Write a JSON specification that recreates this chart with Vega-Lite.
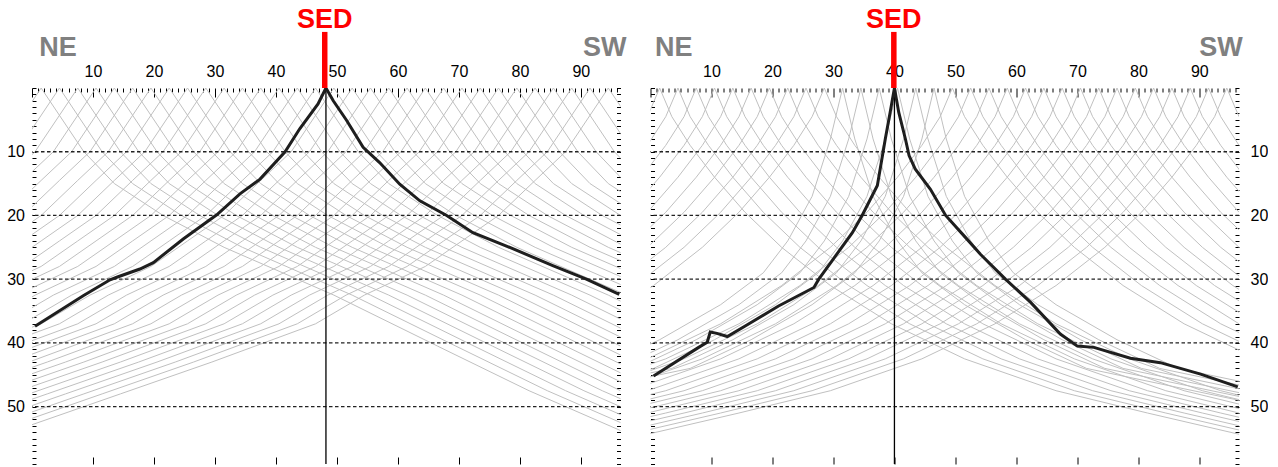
{
"$schema":"https://vega.github.io/schema/vega-lite/v6.json",
"padding":{"left":6,"top":6,"right":0,"bottom":0},
"background":"white",
"spacing":29.5,
"bounds":"flush",
"config":{"view":{"stroke":null},"axis":{"labelFont":"Liberation Sans, sans-serif","labelFontSize":16,"labelColor":"#000","tickColor":"#000","tickWidth":1,"domain":false,"grid":false,"title":null}},
"datasets":{
"L":[
{"s":1.5,"x":-5.5,"t":10},{"s":1.5,"x":1.5,"t":0},{"s":1.5,"x":8.5,"t":10},{"s":1.5,"x":13.5,"t":15},{"s":1.5,"x":21.5,"t":20},{"s":1.5,"x":31.5,"t":25},{"s":1.5,"x":49.5,"t":32.5},{"s":1.5,"x":66.5,"t":40.5},{"s":1.5,"x":81.5,"t":47.5},{"s":1.5,"x":99.5,"t":55},
{"s":4.5,"x":-2.5,"t":10},{"s":4.5,"x":4.5,"t":0},{"s":4.5,"x":11.5,"t":10},{"s":4.5,"x":16.5,"t":15},{"s":4.5,"x":24.5,"t":20},{"s":4.5,"x":34.5,"t":25},{"s":4.5,"x":52.5,"t":32.5},{"s":4.5,"x":69.5,"t":40.5},{"s":4.5,"x":84.5,"t":47.5},{"s":4.5,"x":102.5,"t":55},
{"s":7.5,"x":-4.5,"t":14.5},{"s":7.5,"x":0.5,"t":10},{"s":7.5,"x":7.5,"t":0},{"s":7.5,"x":14.5,"t":10},{"s":7.5,"x":19.5,"t":15},{"s":7.5,"x":27.5,"t":20},{"s":7.5,"x":37.5,"t":25},{"s":7.5,"x":55.5,"t":32.5},{"s":7.5,"x":72.5,"t":40.5},{"s":7.5,"x":87.5,"t":47.5},{"s":7.5,"x":105.5,"t":55},
{"s":10.5,"x":-1.5,"t":14.5},{"s":10.5,"x":3.5,"t":10},{"s":10.5,"x":10.5,"t":0},{"s":10.5,"x":17.5,"t":10},{"s":10.5,"x":22.5,"t":15},{"s":10.5,"x":30.5,"t":20},{"s":10.5,"x":40.5,"t":25},{"s":10.5,"x":58.5,"t":32.5},{"s":10.5,"x":75.5,"t":40.5},{"s":10.5,"x":90.5,"t":47.5},{"s":10.5,"x":108.5,"t":55},
{"s":13.5,"x":-4.5,"t":20},{"s":13.5,"x":1.5,"t":14.5},{"s":13.5,"x":6.5,"t":10},{"s":13.5,"x":13.5,"t":0},{"s":13.5,"x":20.5,"t":10},{"s":13.5,"x":25.5,"t":15},{"s":13.5,"x":33.5,"t":20},{"s":13.5,"x":43.5,"t":25},{"s":13.5,"x":61.5,"t":32.5},{"s":13.5,"x":78.5,"t":40.5},{"s":13.5,"x":93.5,"t":47.5},{"s":13.5,"x":111.5,"t":55},
{"s":16.5,"x":-1.5,"t":20},{"s":16.5,"x":4.5,"t":14.5},{"s":16.5,"x":9.5,"t":10},{"s":16.5,"x":16.5,"t":0},{"s":16.5,"x":23.5,"t":10},{"s":16.5,"x":28.5,"t":15},{"s":16.5,"x":36.5,"t":20},{"s":16.5,"x":46.5,"t":25},{"s":16.5,"x":64.5,"t":32.5},{"s":16.5,"x":81.5,"t":40.5},{"s":16.5,"x":96.5,"t":47.5},
{"s":19.5,"x":-4.5,"t":24},{"s":19.5,"x":1.5,"t":20},{"s":19.5,"x":7.5,"t":14.5},{"s":19.5,"x":12.5,"t":10},{"s":19.5,"x":19.5,"t":0},{"s":19.5,"x":26.5,"t":10},{"s":19.5,"x":31.5,"t":15},{"s":19.5,"x":39.5,"t":20},{"s":19.5,"x":49.5,"t":25},{"s":19.5,"x":67.5,"t":32.5},{"s":19.5,"x":84.5,"t":40.5},{"s":19.5,"x":99.5,"t":47.5},
{"s":22.5,"x":-1.5,"t":24},{"s":22.5,"x":4.5,"t":20},{"s":22.5,"x":10.5,"t":14.5},{"s":22.5,"x":15.5,"t":10},{"s":22.5,"x":22.5,"t":0},{"s":22.5,"x":29.5,"t":10},{"s":22.5,"x":34.5,"t":15},{"s":22.5,"x":42.5,"t":20},{"s":22.5,"x":52.5,"t":25},{"s":22.5,"x":70.5,"t":32.5},{"s":22.5,"x":87.5,"t":40.5},{"s":22.5,"x":102.5,"t":47.5},
{"s":25.5,"x":-4.5,"t":28},{"s":25.5,"x":1.5,"t":24},{"s":25.5,"x":7.5,"t":20},{"s":25.5,"x":13.5,"t":14.5},{"s":25.5,"x":18.5,"t":10},{"s":25.5,"x":25.5,"t":0},{"s":25.5,"x":32.5,"t":10},{"s":25.5,"x":37.5,"t":15},{"s":25.5,"x":45.5,"t":20},{"s":25.5,"x":55.5,"t":25},{"s":25.5,"x":73.5,"t":32.5},{"s":25.5,"x":90.5,"t":40.5},{"s":25.5,"x":105.5,"t":47.5},
{"s":28.5,"x":-1.5,"t":28},{"s":28.5,"x":4.5,"t":24},{"s":28.5,"x":10.5,"t":20},{"s":28.5,"x":16.5,"t":14.5},{"s":28.5,"x":21.5,"t":10},{"s":28.5,"x":28.5,"t":0},{"s":28.5,"x":35.5,"t":10},{"s":28.5,"x":40.5,"t":15},{"s":28.5,"x":48.5,"t":20},{"s":28.5,"x":58.5,"t":25},{"s":28.5,"x":76.5,"t":32.5},{"s":28.5,"x":93.5,"t":40.5},{"s":28.5,"x":108.5,"t":47.5},
{"s":31.5,"x":-8.5,"t":32.5},{"s":31.5,"x":1.5,"t":28},{"s":31.5,"x":7.5,"t":24},{"s":31.5,"x":13.5,"t":20},{"s":31.5,"x":19.5,"t":14.5},{"s":31.5,"x":24.5,"t":10},{"s":31.5,"x":31.5,"t":0},{"s":31.5,"x":38.5,"t":10},{"s":31.5,"x":43.5,"t":15},{"s":31.5,"x":51.5,"t":20},{"s":31.5,"x":61.5,"t":25},{"s":31.5,"x":79.5,"t":32.5},{"s":31.5,"x":96.5,"t":40.5},
{"s":34.5,"x":-5.5,"t":32.5},{"s":34.5,"x":4.5,"t":28},{"s":34.5,"x":10.5,"t":24},{"s":34.5,"x":16.5,"t":20},{"s":34.5,"x":22.5,"t":14.5},{"s":34.5,"x":27.5,"t":10},{"s":34.5,"x":34.5,"t":0},{"s":34.5,"x":41.5,"t":10},{"s":34.5,"x":46.5,"t":15},{"s":34.5,"x":54.5,"t":20},{"s":34.5,"x":64.5,"t":25},{"s":34.5,"x":82.5,"t":32.5},{"s":34.5,"x":99.5,"t":40.5},
{"s":37.5,"x":-2.5,"t":32.5},{"s":37.5,"x":7.5,"t":28},{"s":37.5,"x":13.5,"t":24},{"s":37.5,"x":19.5,"t":20},{"s":37.5,"x":25.5,"t":14.5},{"s":37.5,"x":30.5,"t":10},{"s":37.5,"x":37.5,"t":0},{"s":37.5,"x":44.5,"t":10},{"s":37.5,"x":49.5,"t":15},{"s":37.5,"x":57.5,"t":20},{"s":37.5,"x":67.5,"t":25},{"s":37.5,"x":85.5,"t":32.5},{"s":37.5,"x":102.5,"t":40.5},
{"s":40.5,"x":-7.5,"t":37},{"s":40.5,"x":0.5,"t":32.5},{"s":40.5,"x":10.5,"t":28},{"s":40.5,"x":16.5,"t":24},{"s":40.5,"x":22.5,"t":20},{"s":40.5,"x":28.5,"t":14.5},{"s":40.5,"x":33.5,"t":10},{"s":40.5,"x":40.5,"t":0},{"s":40.5,"x":47.5,"t":10},{"s":40.5,"x":52.5,"t":15},{"s":40.5,"x":60.5,"t":20},{"s":40.5,"x":70.5,"t":25},{"s":40.5,"x":88.5,"t":32.5},{"s":40.5,"x":105.5,"t":40.5},
{"s":43.5,"x":-4.5,"t":37},{"s":43.5,"x":3.5,"t":32.5},{"s":43.5,"x":13.5,"t":28},{"s":43.5,"x":19.5,"t":24},{"s":43.5,"x":25.5,"t":20},{"s":43.5,"x":31.5,"t":14.5},{"s":43.5,"x":36.5,"t":10},{"s":43.5,"x":43.5,"t":0},{"s":43.5,"x":50.5,"t":10},{"s":43.5,"x":55.5,"t":15},{"s":43.5,"x":63.5,"t":20},{"s":43.5,"x":73.5,"t":25},{"s":43.5,"x":91.5,"t":32.5},{"s":43.5,"x":108.5,"t":40.5},
{"s":46.5,"x":-1.5,"t":37},{"s":46.5,"x":6.5,"t":32.5},{"s":46.5,"x":16.5,"t":28},{"s":46.5,"x":22.5,"t":24},{"s":46.5,"x":28.5,"t":20},{"s":46.5,"x":34.5,"t":14.5},{"s":46.5,"x":39.5,"t":10},{"s":46.5,"x":46.5,"t":0},{"s":46.5,"x":53.5,"t":10},{"s":46.5,"x":58.5,"t":15},{"s":46.5,"x":66.5,"t":20},{"s":46.5,"x":76.5,"t":25},{"s":46.5,"x":94.5,"t":32.5},{"s":46.5,"x":111.5,"t":40.5},
{"s":49.5,"x":-15.5,"t":43},{"s":49.5,"x":1.5,"t":37},{"s":49.5,"x":9.5,"t":32.5},{"s":49.5,"x":19.5,"t":28},{"s":49.5,"x":25.5,"t":24},{"s":49.5,"x":31.5,"t":20},{"s":49.5,"x":37.5,"t":14.5},{"s":49.5,"x":42.5,"t":10},{"s":49.5,"x":49.5,"t":0},{"s":49.5,"x":56.5,"t":10},{"s":49.5,"x":61.5,"t":15},{"s":49.5,"x":69.5,"t":20},{"s":49.5,"x":79.5,"t":25},{"s":49.5,"x":97.5,"t":32.5},
{"s":52.5,"x":-12.5,"t":43},{"s":52.5,"x":4.5,"t":37},{"s":52.5,"x":12.5,"t":32.5},{"s":52.5,"x":22.5,"t":28},{"s":52.5,"x":28.5,"t":24},{"s":52.5,"x":34.5,"t":20},{"s":52.5,"x":40.5,"t":14.5},{"s":52.5,"x":45.5,"t":10},{"s":52.5,"x":52.5,"t":0},{"s":52.5,"x":59.5,"t":10},{"s":52.5,"x":64.5,"t":15},{"s":52.5,"x":72.5,"t":20},{"s":52.5,"x":82.5,"t":25},{"s":52.5,"x":100.5,"t":32.5},
{"s":55.5,"x":-9.5,"t":43},{"s":55.5,"x":7.5,"t":37},{"s":55.5,"x":15.5,"t":32.5},{"s":55.5,"x":25.5,"t":28},{"s":55.5,"x":31.5,"t":24},{"s":55.5,"x":37.5,"t":20},{"s":55.5,"x":43.5,"t":14.5},{"s":55.5,"x":48.5,"t":10},{"s":55.5,"x":55.5,"t":0},{"s":55.5,"x":62.5,"t":10},{"s":55.5,"x":67.5,"t":15},{"s":55.5,"x":75.5,"t":20},{"s":55.5,"x":85.5,"t":25},{"s":55.5,"x":103.5,"t":32.5},
{"s":58.5,"x":-6.5,"t":43},{"s":58.5,"x":10.5,"t":37},{"s":58.5,"x":18.5,"t":32.5},{"s":58.5,"x":28.5,"t":28},{"s":58.5,"x":34.5,"t":24},{"s":58.5,"x":40.5,"t":20},{"s":58.5,"x":46.5,"t":14.5},{"s":58.5,"x":51.5,"t":10},{"s":58.5,"x":58.5,"t":0},{"s":58.5,"x":65.5,"t":10},{"s":58.5,"x":70.5,"t":15},{"s":58.5,"x":78.5,"t":20},{"s":58.5,"x":88.5,"t":25},{"s":58.5,"x":106.5,"t":32.5},
{"s":61.5,"x":-3.5,"t":43},{"s":61.5,"x":13.5,"t":37},{"s":61.5,"x":21.5,"t":32.5},{"s":61.5,"x":31.5,"t":28},{"s":61.5,"x":37.5,"t":24},{"s":61.5,"x":43.5,"t":20},{"s":61.5,"x":49.5,"t":14.5},{"s":61.5,"x":54.5,"t":10},{"s":61.5,"x":61.5,"t":0},{"s":61.5,"x":68.5,"t":10},{"s":61.5,"x":73.5,"t":15},{"s":61.5,"x":81.5,"t":20},{"s":61.5,"x":91.5,"t":25},{"s":61.5,"x":109.5,"t":32.5},
{"s":64.5,"x":-0.5,"t":43},{"s":64.5,"x":16.5,"t":37},{"s":64.5,"x":24.5,"t":32.5},{"s":64.5,"x":34.5,"t":28},{"s":64.5,"x":40.5,"t":24},{"s":64.5,"x":46.5,"t":20},{"s":64.5,"x":52.5,"t":14.5},{"s":64.5,"x":57.5,"t":10},{"s":64.5,"x":64.5,"t":0},{"s":64.5,"x":71.5,"t":10},{"s":64.5,"x":76.5,"t":15},{"s":64.5,"x":84.5,"t":20},{"s":64.5,"x":94.5,"t":25},{"s":64.5,"x":112.5,"t":32.5},
{"s":67.5,"x":-12.5,"t":48},{"s":67.5,"x":2.5,"t":43},{"s":67.5,"x":19.5,"t":37},{"s":67.5,"x":27.5,"t":32.5},{"s":67.5,"x":37.5,"t":28},{"s":67.5,"x":43.5,"t":24},{"s":67.5,"x":49.5,"t":20},{"s":67.5,"x":55.5,"t":14.5},{"s":67.5,"x":60.5,"t":10},{"s":67.5,"x":67.5,"t":0},{"s":67.5,"x":74.5,"t":10},{"s":67.5,"x":79.5,"t":15},{"s":67.5,"x":87.5,"t":20},{"s":67.5,"x":97.5,"t":25},
{"s":70.5,"x":-9.5,"t":48},{"s":70.5,"x":5.5,"t":43},{"s":70.5,"x":22.5,"t":37},{"s":70.5,"x":30.5,"t":32.5},{"s":70.5,"x":40.5,"t":28},{"s":70.5,"x":46.5,"t":24},{"s":70.5,"x":52.5,"t":20},{"s":70.5,"x":58.5,"t":14.5},{"s":70.5,"x":63.5,"t":10},{"s":70.5,"x":70.5,"t":0},{"s":70.5,"x":77.5,"t":10},{"s":70.5,"x":82.5,"t":15},{"s":70.5,"x":90.5,"t":20},{"s":70.5,"x":100.5,"t":25},
{"s":73.5,"x":-6.5,"t":48},{"s":73.5,"x":8.5,"t":43},{"s":73.5,"x":25.5,"t":37},{"s":73.5,"x":33.5,"t":32.5},{"s":73.5,"x":43.5,"t":28},{"s":73.5,"x":49.5,"t":24},{"s":73.5,"x":55.5,"t":20},{"s":73.5,"x":61.5,"t":14.5},{"s":73.5,"x":66.5,"t":10},{"s":73.5,"x":73.5,"t":0},{"s":73.5,"x":80.5,"t":10},{"s":73.5,"x":85.5,"t":15},{"s":73.5,"x":93.5,"t":20},{"s":73.5,"x":103.5,"t":25},
{"s":76.5,"x":-3.5,"t":48},{"s":76.5,"x":11.5,"t":43},{"s":76.5,"x":28.5,"t":37},{"s":76.5,"x":36.5,"t":32.5},{"s":76.5,"x":46.5,"t":28},{"s":76.5,"x":52.5,"t":24},{"s":76.5,"x":58.5,"t":20},{"s":76.5,"x":64.5,"t":14.5},{"s":76.5,"x":69.5,"t":10},{"s":76.5,"x":76.5,"t":0},{"s":76.5,"x":83.5,"t":10},{"s":76.5,"x":88.5,"t":15},{"s":76.5,"x":96.5,"t":20},
{"s":79.5,"x":-0.5,"t":48},{"s":79.5,"x":14.5,"t":43},{"s":79.5,"x":31.5,"t":37},{"s":79.5,"x":39.5,"t":32.5},{"s":79.5,"x":49.5,"t":28},{"s":79.5,"x":55.5,"t":24},{"s":79.5,"x":61.5,"t":20},{"s":79.5,"x":67.5,"t":14.5},{"s":79.5,"x":72.5,"t":10},{"s":79.5,"x":79.5,"t":0},{"s":79.5,"x":86.5,"t":10},{"s":79.5,"x":91.5,"t":15},{"s":79.5,"x":99.5,"t":20},
{"s":82.5,"x":-15.5,"t":54},{"s":82.5,"x":2.5,"t":48},{"s":82.5,"x":17.5,"t":43},{"s":82.5,"x":34.5,"t":37},{"s":82.5,"x":42.5,"t":32.5},{"s":82.5,"x":52.5,"t":28},{"s":82.5,"x":58.5,"t":24},{"s":82.5,"x":64.5,"t":20},{"s":82.5,"x":70.5,"t":14.5},{"s":82.5,"x":75.5,"t":10},{"s":82.5,"x":82.5,"t":0},{"s":82.5,"x":89.5,"t":10},{"s":82.5,"x":94.5,"t":15},{"s":82.5,"x":102.5,"t":20},
{"s":85.5,"x":-12.5,"t":54},{"s":85.5,"x":5.5,"t":48},{"s":85.5,"x":20.5,"t":43},{"s":85.5,"x":37.5,"t":37},{"s":85.5,"x":45.5,"t":32.5},{"s":85.5,"x":55.5,"t":28},{"s":85.5,"x":61.5,"t":24},{"s":85.5,"x":67.5,"t":20},{"s":85.5,"x":73.5,"t":14.5},{"s":85.5,"x":78.5,"t":10},{"s":85.5,"x":85.5,"t":0},{"s":85.5,"x":92.5,"t":10},{"s":85.5,"x":97.5,"t":15},
{"s":88.5,"x":-9.5,"t":54},{"s":88.5,"x":8.5,"t":48},{"s":88.5,"x":23.5,"t":43},{"s":88.5,"x":40.5,"t":37},{"s":88.5,"x":48.5,"t":32.5},{"s":88.5,"x":58.5,"t":28},{"s":88.5,"x":64.5,"t":24},{"s":88.5,"x":70.5,"t":20},{"s":88.5,"x":76.5,"t":14.5},{"s":88.5,"x":81.5,"t":10},{"s":88.5,"x":88.5,"t":0},{"s":88.5,"x":95.5,"t":10},{"s":88.5,"x":100.5,"t":15},
{"s":91.5,"x":-6.5,"t":54},{"s":91.5,"x":11.5,"t":48},{"s":91.5,"x":26.5,"t":43},{"s":91.5,"x":43.5,"t":37},{"s":91.5,"x":51.5,"t":32.5},{"s":91.5,"x":61.5,"t":28},{"s":91.5,"x":67.5,"t":24},{"s":91.5,"x":73.5,"t":20},{"s":91.5,"x":79.5,"t":14.5},{"s":91.5,"x":84.5,"t":10},{"s":91.5,"x":91.5,"t":0},{"s":91.5,"x":98.5,"t":10},
{"s":94.5,"x":-3.5,"t":54},{"s":94.5,"x":14.5,"t":48},{"s":94.5,"x":29.5,"t":43},{"s":94.5,"x":46.5,"t":37},{"s":94.5,"x":54.5,"t":32.5},{"s":94.5,"x":64.5,"t":28},{"s":94.5,"x":70.5,"t":24},{"s":94.5,"x":76.5,"t":20},{"s":94.5,"x":82.5,"t":14.5},{"s":94.5,"x":87.5,"t":10},{"s":94.5,"x":94.5,"t":0},{"s":94.5,"x":101.5,"t":10}
],
"R":[
{"s":1.5,"x":-0.5,"t":4.5},{"s":1.5,"x":1.5,"t":0},{"s":1.5,"x":3.5,"t":4.5},{"s":1.5,"x":6.5,"t":9},{"s":1.5,"x":10.5,"t":14},{"s":1.5,"x":15.5,"t":19.5},{"s":1.5,"x":21.5,"t":25},{"s":1.5,"x":29.5,"t":31},{"s":1.5,"x":39.5,"t":37},{"s":1.5,"x":51.5,"t":42.5},{"s":1.5,"x":66.5,"t":47.5},{"s":1.5,"x":81.5,"t":51},{"s":1.5,"x":99.5,"t":55},
{"s":4.5,"x":-0.5,"t":9},{"s":4.5,"x":2.5,"t":4.5},{"s":4.5,"x":4.5,"t":0},{"s":4.5,"x":6.5,"t":4.5},{"s":4.5,"x":9.5,"t":9},{"s":4.5,"x":13.5,"t":14},{"s":4.5,"x":18.5,"t":19.5},{"s":4.5,"x":24.5,"t":25},{"s":4.5,"x":32.5,"t":31},{"s":4.5,"x":42.5,"t":37},{"s":4.5,"x":54.5,"t":42.5},{"s":4.5,"x":69.5,"t":47.5},{"s":4.5,"x":84.5,"t":51},{"s":4.5,"x":102.5,"t":55},
{"s":7.5,"x":-1.5,"t":14},{"s":7.5,"x":2.5,"t":9},{"s":7.5,"x":5.5,"t":4.5},{"s":7.5,"x":7.5,"t":0},{"s":7.5,"x":9.5,"t":4.5},{"s":7.5,"x":12.5,"t":9},{"s":7.5,"x":16.5,"t":14},{"s":7.5,"x":21.5,"t":19.5},{"s":7.5,"x":27.5,"t":25},{"s":7.5,"x":35.5,"t":31},{"s":7.5,"x":45.5,"t":37},{"s":7.5,"x":57.5,"t":42.5},{"s":7.5,"x":72.5,"t":47.5},{"s":7.5,"x":87.5,"t":51},{"s":7.5,"x":105.5,"t":55},
{"s":10.5,"x":-3.5,"t":19.5},{"s":10.5,"x":1.5,"t":14},{"s":10.5,"x":5.5,"t":9},{"s":10.5,"x":8.5,"t":4.5},{"s":10.5,"x":10.5,"t":0},{"s":10.5,"x":12.5,"t":4.5},{"s":10.5,"x":15.5,"t":9},{"s":10.5,"x":19.5,"t":14},{"s":10.5,"x":24.5,"t":19.5},{"s":10.5,"x":30.5,"t":25},{"s":10.5,"x":38.5,"t":31},{"s":10.5,"x":48.5,"t":37},{"s":10.5,"x":60.5,"t":42.5},{"s":10.5,"x":75.5,"t":47.5},{"s":10.5,"x":90.5,"t":51},{"s":10.5,"x":108.5,"t":55},
{"s":13.5,"x":-0.5,"t":19.5},{"s":13.5,"x":4.5,"t":14},{"s":13.5,"x":8.5,"t":9},{"s":13.5,"x":11.5,"t":4.5},{"s":13.5,"x":13.5,"t":0},{"s":13.5,"x":15.5,"t":4.5},{"s":13.5,"x":18.5,"t":9},{"s":13.5,"x":22.5,"t":14},{"s":13.5,"x":27.5,"t":19.5},{"s":13.5,"x":33.5,"t":25},{"s":13.5,"x":41.5,"t":31},{"s":13.5,"x":51.5,"t":37},{"s":13.5,"x":63.5,"t":42.5},{"s":13.5,"x":78.5,"t":47.5},{"s":13.5,"x":93.5,"t":51},{"s":13.5,"x":111.5,"t":55},
{"s":16.5,"x":-3.5,"t":25},{"s":16.5,"x":2.5,"t":19.5},{"s":16.5,"x":7.5,"t":14},{"s":16.5,"x":11.5,"t":9},{"s":16.5,"x":14.5,"t":4.5},{"s":16.5,"x":16.5,"t":0},{"s":16.5,"x":18.5,"t":4.5},{"s":16.5,"x":21.5,"t":9},{"s":16.5,"x":25.5,"t":14},{"s":16.5,"x":30.5,"t":19.5},{"s":16.5,"x":36.5,"t":25},{"s":16.5,"x":44.5,"t":31},{"s":16.5,"x":54.5,"t":37},{"s":16.5,"x":66.5,"t":42.5},{"s":16.5,"x":81.5,"t":47.5},{"s":16.5,"x":96.5,"t":51},
{"s":19.5,"x":-0.5,"t":25},{"s":19.5,"x":5.5,"t":19.5},{"s":19.5,"x":10.5,"t":14},{"s":19.5,"x":14.5,"t":9},{"s":19.5,"x":17.5,"t":4.5},{"s":19.5,"x":19.5,"t":0},{"s":19.5,"x":21.5,"t":4.5},{"s":19.5,"x":24.5,"t":9},{"s":19.5,"x":28.5,"t":14},{"s":19.5,"x":33.5,"t":19.5},{"s":19.5,"x":39.5,"t":25},{"s":19.5,"x":47.5,"t":31},{"s":19.5,"x":57.5,"t":37},{"s":19.5,"x":69.5,"t":42.5},{"s":19.5,"x":84.5,"t":47.5},{"s":19.5,"x":99.5,"t":51},
{"s":22.5,"x":-5.5,"t":31},{"s":22.5,"x":2.5,"t":25},{"s":22.5,"x":8.5,"t":19.5},{"s":22.5,"x":13.5,"t":14},{"s":22.5,"x":17.5,"t":9},{"s":22.5,"x":20.5,"t":4.5},{"s":22.5,"x":22.5,"t":0},{"s":22.5,"x":24.5,"t":4.5},{"s":22.5,"x":27.5,"t":9},{"s":22.5,"x":31.5,"t":14},{"s":22.5,"x":36.5,"t":19.5},{"s":22.5,"x":42.5,"t":25},{"s":22.5,"x":50.5,"t":31},{"s":22.5,"x":60.5,"t":37},{"s":22.5,"x":72.5,"t":42.5},{"s":22.5,"x":87.5,"t":47.5},{"s":22.5,"x":102.5,"t":51},
{"s":25.5,"x":-2.5,"t":31},{"s":25.5,"x":5.5,"t":25},{"s":25.5,"x":11.5,"t":19.5},{"s":25.5,"x":16.5,"t":14},{"s":25.5,"x":20.5,"t":9},{"s":25.5,"x":23.5,"t":4.5},{"s":25.5,"x":25.5,"t":0},{"s":25.5,"x":27.5,"t":4.5},{"s":25.5,"x":30.5,"t":9},{"s":25.5,"x":34.5,"t":14},{"s":25.5,"x":39.5,"t":19.5},{"s":25.5,"x":45.5,"t":25},{"s":25.5,"x":53.5,"t":31},{"s":25.5,"x":63.5,"t":37},{"s":25.5,"x":75.5,"t":42.5},{"s":25.5,"x":90.5,"t":47.5},{"s":25.5,"x":105.5,"t":51},
{"s":28.5,"x":-9.5,"t":37},{"s":28.5,"x":0.5,"t":31},{"s":28.5,"x":8.5,"t":25},{"s":28.5,"x":14.5,"t":19.5},{"s":28.5,"x":19.5,"t":14},{"s":28.5,"x":23.5,"t":9},{"s":28.5,"x":26.5,"t":4.5},{"s":28.5,"x":28.5,"t":0},{"s":28.5,"x":30.5,"t":4.5},{"s":28.5,"x":33.5,"t":9},{"s":28.5,"x":37.5,"t":14},{"s":28.5,"x":42.5,"t":19.5},{"s":28.5,"x":48.5,"t":25},{"s":28.5,"x":56.5,"t":31},{"s":28.5,"x":66.5,"t":37},{"s":28.5,"x":78.5,"t":42.5},{"s":28.5,"x":93.5,"t":47.5},{"s":28.5,"x":108.5,"t":51},
{"s":31.5,"x":-8.5,"t":44},{"s":31.5,"x":1.5,"t":39.5},{"s":31.5,"x":11.5,"t":34},{"s":31.5,"x":18.5,"t":29},{"s":31.5,"x":22.5,"t":24},{"s":31.5,"x":26.5,"t":17},{"s":31.5,"x":29.5,"t":8},{"s":31.5,"x":31.5,"t":0},{"s":31.5,"x":33.5,"t":8},{"s":31.5,"x":36.5,"t":17},{"s":31.5,"x":40.5,"t":24},{"s":31.5,"x":44.5,"t":29},{"s":31.5,"x":51.5,"t":34},{"s":31.5,"x":61.5,"t":39.5},{"s":31.5,"x":71.5,"t":44},{"s":31.5,"x":86.5,"t":47},{"s":31.5,"x":101.5,"t":50},
{"s":34.5,"x":-5.5,"t":44},{"s":34.5,"x":4.5,"t":39.5},{"s":34.5,"x":14.5,"t":34},{"s":34.5,"x":21.5,"t":29},{"s":34.5,"x":25.5,"t":24},{"s":34.5,"x":29.5,"t":17},{"s":34.5,"x":32.5,"t":8},{"s":34.5,"x":34.5,"t":0},{"s":34.5,"x":36.5,"t":8},{"s":34.5,"x":39.5,"t":17},{"s":34.5,"x":43.5,"t":24},{"s":34.5,"x":47.5,"t":29},{"s":34.5,"x":54.5,"t":34},{"s":34.5,"x":64.5,"t":39.5},{"s":34.5,"x":74.5,"t":44},{"s":34.5,"x":89.5,"t":47},{"s":34.5,"x":104.5,"t":50},
{"s":37.5,"x":-2.5,"t":44},{"s":37.5,"x":7.5,"t":39.5},{"s":37.5,"x":17.5,"t":34},{"s":37.5,"x":24.5,"t":29},{"s":37.5,"x":28.5,"t":24},{"s":37.5,"x":32.5,"t":17},{"s":37.5,"x":35.5,"t":8},{"s":37.5,"x":37.5,"t":0},{"s":37.5,"x":39.5,"t":8},{"s":37.5,"x":42.5,"t":17},{"s":37.5,"x":46.5,"t":24},{"s":37.5,"x":50.5,"t":29},{"s":37.5,"x":57.5,"t":34},{"s":37.5,"x":67.5,"t":39.5},{"s":37.5,"x":77.5,"t":44},{"s":37.5,"x":92.5,"t":47},{"s":37.5,"x":107.5,"t":50},
{"s":40.5,"x":-14.5,"t":47},{"s":40.5,"x":0.5,"t":44},{"s":40.5,"x":10.5,"t":39.5},{"s":40.5,"x":20.5,"t":34},{"s":40.5,"x":27.5,"t":29},{"s":40.5,"x":31.5,"t":24},{"s":40.5,"x":35.5,"t":17},{"s":40.5,"x":38.5,"t":8},{"s":40.5,"x":40.5,"t":0},{"s":40.5,"x":42.5,"t":8},{"s":40.5,"x":45.5,"t":17},{"s":40.5,"x":49.5,"t":24},{"s":40.5,"x":53.5,"t":29},{"s":40.5,"x":60.5,"t":34},{"s":40.5,"x":70.5,"t":39.5},{"s":40.5,"x":80.5,"t":44},{"s":40.5,"x":95.5,"t":47},{"s":40.5,"x":110.5,"t":50},
{"s":43.5,"x":-11.5,"t":47},{"s":43.5,"x":3.5,"t":44},{"s":43.5,"x":13.5,"t":39.5},{"s":43.5,"x":23.5,"t":34},{"s":43.5,"x":30.5,"t":29},{"s":43.5,"x":34.5,"t":24},{"s":43.5,"x":38.5,"t":17},{"s":43.5,"x":41.5,"t":8},{"s":43.5,"x":43.5,"t":0},{"s":43.5,"x":45.5,"t":8},{"s":43.5,"x":48.5,"t":17},{"s":43.5,"x":52.5,"t":24},{"s":43.5,"x":56.5,"t":29},{"s":43.5,"x":63.5,"t":34},{"s":43.5,"x":73.5,"t":39.5},{"s":43.5,"x":83.5,"t":44},{"s":43.5,"x":98.5,"t":47},
{"s":46.5,"x":-8.5,"t":47},{"s":46.5,"x":6.5,"t":44},{"s":46.5,"x":16.5,"t":39.5},{"s":46.5,"x":26.5,"t":34},{"s":46.5,"x":33.5,"t":29},{"s":46.5,"x":37.5,"t":24},{"s":46.5,"x":41.5,"t":17},{"s":46.5,"x":44.5,"t":8},{"s":46.5,"x":46.5,"t":0},{"s":46.5,"x":48.5,"t":8},{"s":46.5,"x":51.5,"t":17},{"s":46.5,"x":55.5,"t":24},{"s":46.5,"x":59.5,"t":29},{"s":46.5,"x":66.5,"t":34},{"s":46.5,"x":76.5,"t":39.5},{"s":46.5,"x":86.5,"t":44},{"s":46.5,"x":101.5,"t":47},
{"s":49.5,"x":-0.5,"t":42.5},{"s":49.5,"x":11.5,"t":37},{"s":49.5,"x":21.5,"t":31},{"s":49.5,"x":29.5,"t":25},{"s":49.5,"x":35.5,"t":19.5},{"s":49.5,"x":40.5,"t":14},{"s":49.5,"x":44.5,"t":9},{"s":49.5,"x":47.5,"t":4.5},{"s":49.5,"x":49.5,"t":0},{"s":49.5,"x":51.5,"t":4.5},{"s":49.5,"x":54.5,"t":9},{"s":49.5,"x":58.5,"t":14},{"s":49.5,"x":63.5,"t":19.5},{"s":49.5,"x":69.5,"t":25},{"s":49.5,"x":77.5,"t":31},{"s":49.5,"x":87.5,"t":37},{"s":49.5,"x":99.5,"t":42.5},
{"s":52.5,"x":-12.5,"t":47.5},{"s":52.5,"x":2.5,"t":42.5},{"s":52.5,"x":14.5,"t":37},{"s":52.5,"x":24.5,"t":31},{"s":52.5,"x":32.5,"t":25},{"s":52.5,"x":38.5,"t":19.5},{"s":52.5,"x":43.5,"t":14},{"s":52.5,"x":47.5,"t":9},{"s":52.5,"x":50.5,"t":4.5},{"s":52.5,"x":52.5,"t":0},{"s":52.5,"x":54.5,"t":4.5},{"s":52.5,"x":57.5,"t":9},{"s":52.5,"x":61.5,"t":14},{"s":52.5,"x":66.5,"t":19.5},{"s":52.5,"x":72.5,"t":25},{"s":52.5,"x":80.5,"t":31},{"s":52.5,"x":90.5,"t":37},{"s":52.5,"x":102.5,"t":42.5},
{"s":55.5,"x":-9.5,"t":47.5},{"s":55.5,"x":5.5,"t":42.5},{"s":55.5,"x":17.5,"t":37},{"s":55.5,"x":27.5,"t":31},{"s":55.5,"x":35.5,"t":25},{"s":55.5,"x":41.5,"t":19.5},{"s":55.5,"x":46.5,"t":14},{"s":55.5,"x":50.5,"t":9},{"s":55.5,"x":53.5,"t":4.5},{"s":55.5,"x":55.5,"t":0},{"s":55.5,"x":57.5,"t":4.5},{"s":55.5,"x":60.5,"t":9},{"s":55.5,"x":64.5,"t":14},{"s":55.5,"x":69.5,"t":19.5},{"s":55.5,"x":75.5,"t":25},{"s":55.5,"x":83.5,"t":31},{"s":55.5,"x":93.5,"t":37},{"s":55.5,"x":105.5,"t":42.5},
{"s":58.5,"x":-6.5,"t":47.5},{"s":58.5,"x":8.5,"t":42.5},{"s":58.5,"x":20.5,"t":37},{"s":58.5,"x":30.5,"t":31},{"s":58.5,"x":38.5,"t":25},{"s":58.5,"x":44.5,"t":19.5},{"s":58.5,"x":49.5,"t":14},{"s":58.5,"x":53.5,"t":9},{"s":58.5,"x":56.5,"t":4.5},{"s":58.5,"x":58.5,"t":0},{"s":58.5,"x":60.5,"t":4.5},{"s":58.5,"x":63.5,"t":9},{"s":58.5,"x":67.5,"t":14},{"s":58.5,"x":72.5,"t":19.5},{"s":58.5,"x":78.5,"t":25},{"s":58.5,"x":86.5,"t":31},{"s":58.5,"x":96.5,"t":37},
{"s":61.5,"x":-3.5,"t":47.5},{"s":61.5,"x":11.5,"t":42.5},{"s":61.5,"x":23.5,"t":37},{"s":61.5,"x":33.5,"t":31},{"s":61.5,"x":41.5,"t":25},{"s":61.5,"x":47.5,"t":19.5},{"s":61.5,"x":52.5,"t":14},{"s":61.5,"x":56.5,"t":9},{"s":61.5,"x":59.5,"t":4.5},{"s":61.5,"x":61.5,"t":0},{"s":61.5,"x":63.5,"t":4.5},{"s":61.5,"x":66.5,"t":9},{"s":61.5,"x":70.5,"t":14},{"s":61.5,"x":75.5,"t":19.5},{"s":61.5,"x":81.5,"t":25},{"s":61.5,"x":89.5,"t":31},{"s":61.5,"x":99.5,"t":37},
{"s":64.5,"x":-0.5,"t":47.5},{"s":64.5,"x":14.5,"t":42.5},{"s":64.5,"x":26.5,"t":37},{"s":64.5,"x":36.5,"t":31},{"s":64.5,"x":44.5,"t":25},{"s":64.5,"x":50.5,"t":19.5},{"s":64.5,"x":55.5,"t":14},{"s":64.5,"x":59.5,"t":9},{"s":64.5,"x":62.5,"t":4.5},{"s":64.5,"x":64.5,"t":0},{"s":64.5,"x":66.5,"t":4.5},{"s":64.5,"x":69.5,"t":9},{"s":64.5,"x":73.5,"t":14},{"s":64.5,"x":78.5,"t":19.5},{"s":64.5,"x":84.5,"t":25},{"s":64.5,"x":92.5,"t":31},{"s":64.5,"x":102.5,"t":37},
{"s":67.5,"x":-12.5,"t":51},{"s":67.5,"x":2.5,"t":47.5},{"s":67.5,"x":17.5,"t":42.5},{"s":67.5,"x":29.5,"t":37},{"s":67.5,"x":39.5,"t":31},{"s":67.5,"x":47.5,"t":25},{"s":67.5,"x":53.5,"t":19.5},{"s":67.5,"x":58.5,"t":14},{"s":67.5,"x":62.5,"t":9},{"s":67.5,"x":65.5,"t":4.5},{"s":67.5,"x":67.5,"t":0},{"s":67.5,"x":69.5,"t":4.5},{"s":67.5,"x":72.5,"t":9},{"s":67.5,"x":76.5,"t":14},{"s":67.5,"x":81.5,"t":19.5},{"s":67.5,"x":87.5,"t":25},{"s":67.5,"x":95.5,"t":31},{"s":67.5,"x":105.5,"t":37},
{"s":70.5,"x":-9.5,"t":51},{"s":70.5,"x":5.5,"t":47.5},{"s":70.5,"x":20.5,"t":42.5},{"s":70.5,"x":32.5,"t":37},{"s":70.5,"x":42.5,"t":31},{"s":70.5,"x":50.5,"t":25},{"s":70.5,"x":56.5,"t":19.5},{"s":70.5,"x":61.5,"t":14},{"s":70.5,"x":65.5,"t":9},{"s":70.5,"x":68.5,"t":4.5},{"s":70.5,"x":70.5,"t":0},{"s":70.5,"x":72.5,"t":4.5},{"s":70.5,"x":75.5,"t":9},{"s":70.5,"x":79.5,"t":14},{"s":70.5,"x":84.5,"t":19.5},{"s":70.5,"x":90.5,"t":25},{"s":70.5,"x":98.5,"t":31},
{"s":73.5,"x":-6.5,"t":51},{"s":73.5,"x":8.5,"t":47.5},{"s":73.5,"x":23.5,"t":42.5},{"s":73.5,"x":35.5,"t":37},{"s":73.5,"x":45.5,"t":31},{"s":73.5,"x":53.5,"t":25},{"s":73.5,"x":59.5,"t":19.5},{"s":73.5,"x":64.5,"t":14},{"s":73.5,"x":68.5,"t":9},{"s":73.5,"x":71.5,"t":4.5},{"s":73.5,"x":73.5,"t":0},{"s":73.5,"x":75.5,"t":4.5},{"s":73.5,"x":78.5,"t":9},{"s":73.5,"x":82.5,"t":14},{"s":73.5,"x":87.5,"t":19.5},{"s":73.5,"x":93.5,"t":25},{"s":73.5,"x":101.5,"t":31},
{"s":76.5,"x":-3.5,"t":51},{"s":76.5,"x":11.5,"t":47.5},{"s":76.5,"x":26.5,"t":42.5},{"s":76.5,"x":38.5,"t":37},{"s":76.5,"x":48.5,"t":31},{"s":76.5,"x":56.5,"t":25},{"s":76.5,"x":62.5,"t":19.5},{"s":76.5,"x":67.5,"t":14},{"s":76.5,"x":71.5,"t":9},{"s":76.5,"x":74.5,"t":4.5},{"s":76.5,"x":76.5,"t":0},{"s":76.5,"x":78.5,"t":4.5},{"s":76.5,"x":81.5,"t":9},{"s":76.5,"x":85.5,"t":14},{"s":76.5,"x":90.5,"t":19.5},{"s":76.5,"x":96.5,"t":25},
{"s":79.5,"x":-0.5,"t":51},{"s":79.5,"x":14.5,"t":47.5},{"s":79.5,"x":29.5,"t":42.5},{"s":79.5,"x":41.5,"t":37},{"s":79.5,"x":51.5,"t":31},{"s":79.5,"x":59.5,"t":25},{"s":79.5,"x":65.5,"t":19.5},{"s":79.5,"x":70.5,"t":14},{"s":79.5,"x":74.5,"t":9},{"s":79.5,"x":77.5,"t":4.5},{"s":79.5,"x":79.5,"t":0},{"s":79.5,"x":81.5,"t":4.5},{"s":79.5,"x":84.5,"t":9},{"s":79.5,"x":88.5,"t":14},{"s":79.5,"x":93.5,"t":19.5},{"s":79.5,"x":99.5,"t":25},
{"s":82.5,"x":-15.5,"t":55},{"s":82.5,"x":2.5,"t":51},{"s":82.5,"x":17.5,"t":47.5},{"s":82.5,"x":32.5,"t":42.5},{"s":82.5,"x":44.5,"t":37},{"s":82.5,"x":54.5,"t":31},{"s":82.5,"x":62.5,"t":25},{"s":82.5,"x":68.5,"t":19.5},{"s":82.5,"x":73.5,"t":14},{"s":82.5,"x":77.5,"t":9},{"s":82.5,"x":80.5,"t":4.5},{"s":82.5,"x":82.5,"t":0},{"s":82.5,"x":84.5,"t":4.5},{"s":82.5,"x":87.5,"t":9},{"s":82.5,"x":91.5,"t":14},{"s":82.5,"x":96.5,"t":19.5},
{"s":85.5,"x":-12.5,"t":55},{"s":85.5,"x":5.5,"t":51},{"s":85.5,"x":20.5,"t":47.5},{"s":85.5,"x":35.5,"t":42.5},{"s":85.5,"x":47.5,"t":37},{"s":85.5,"x":57.5,"t":31},{"s":85.5,"x":65.5,"t":25},{"s":85.5,"x":71.5,"t":19.5},{"s":85.5,"x":76.5,"t":14},{"s":85.5,"x":80.5,"t":9},{"s":85.5,"x":83.5,"t":4.5},{"s":85.5,"x":85.5,"t":0},{"s":85.5,"x":87.5,"t":4.5},{"s":85.5,"x":90.5,"t":9},{"s":85.5,"x":94.5,"t":14},{"s":85.5,"x":99.5,"t":19.5},
{"s":88.5,"x":-9.5,"t":55},{"s":88.5,"x":8.5,"t":51},{"s":88.5,"x":23.5,"t":47.5},{"s":88.5,"x":38.5,"t":42.5},{"s":88.5,"x":50.5,"t":37},{"s":88.5,"x":60.5,"t":31},{"s":88.5,"x":68.5,"t":25},{"s":88.5,"x":74.5,"t":19.5},{"s":88.5,"x":79.5,"t":14},{"s":88.5,"x":83.5,"t":9},{"s":88.5,"x":86.5,"t":4.5},{"s":88.5,"x":88.5,"t":0},{"s":88.5,"x":90.5,"t":4.5},{"s":88.5,"x":93.5,"t":9},{"s":88.5,"x":97.5,"t":14},
{"s":91.5,"x":-6.5,"t":55},{"s":91.5,"x":11.5,"t":51},{"s":91.5,"x":26.5,"t":47.5},{"s":91.5,"x":41.5,"t":42.5},{"s":91.5,"x":53.5,"t":37},{"s":91.5,"x":63.5,"t":31},{"s":91.5,"x":71.5,"t":25},{"s":91.5,"x":77.5,"t":19.5},{"s":91.5,"x":82.5,"t":14},{"s":91.5,"x":86.5,"t":9},{"s":91.5,"x":89.5,"t":4.5},{"s":91.5,"x":91.5,"t":0},{"s":91.5,"x":93.5,"t":4.5},{"s":91.5,"x":96.5,"t":9},
{"s":94.5,"x":-3.5,"t":55},{"s":94.5,"x":14.5,"t":51},{"s":94.5,"x":29.5,"t":47.5},{"s":94.5,"x":44.5,"t":42.5},{"s":94.5,"x":56.5,"t":37},{"s":94.5,"x":66.5,"t":31},{"s":94.5,"x":74.5,"t":25},{"s":94.5,"x":80.5,"t":19.5},{"s":94.5,"x":85.5,"t":14},{"s":94.5,"x":89.5,"t":9},{"s":94.5,"x":92.5,"t":4.5},{"s":94.5,"x":94.5,"t":0},{"s":94.5,"x":96.5,"t":4.5}
],
"LB":[{"x":0.5,"t":37.4},{"x":8.4,"t":32.6},{"x":12.8,"t":30.1},{"x":13.9,"t":29.7},{"x":17.7,"t":28.4},{"x":19.9,"t":27.4},{"x":24.8,"t":23.7},{"x":30.3,"t":19.9},{"x":34.1,"t":16.6},{"x":37.4,"t":14.3},{"x":41.5,"t":10},{"x":43.9,"t":6.4},{"x":46.9,"t":2.5},{"x":48.2,"t":0},{"x":49.4,"t":2},{"x":51.6,"t":5.1},{"x":54.3,"t":9.3},{"x":57,"t":11.7},{"x":60.3,"t":15.1},{"x":63.6,"t":17.7},{"x":68,"t":20},{"x":72.3,"t":22.7},{"x":77.8,"t":24.8},{"x":85.5,"t":27.9},{"x":90.9,"t":30},{"x":96.3,"t":32.4}],
"RB":[{"x":0.5,"t":45.2},{"x":7.9,"t":40.7},{"x":9.3,"t":39.9},{"x":9.8,"t":38.3},{"x":10.9,"t":38.5},{"x":12.6,"t":39},{"x":15.6,"t":37.3},{"x":21,"t":34.2},{"x":26.8,"t":31.3},{"x":27.6,"t":30},{"x":30,"t":26.8},{"x":33.1,"t":22.7},{"x":34.7,"t":20},{"x":37.2,"t":15.3},{"x":38.5,"t":8},{"x":39.3,"t":3.8},{"x":40,"t":0},{"x":40.7,"t":3.8},{"x":41.8,"t":8},{"x":42.4,"t":10.6},{"x":43.4,"t":12.7},{"x":45.9,"t":15.9},{"x":48.4,"t":20},{"x":51.6,"t":23.4},{"x":54.1,"t":26.1},{"x":58.2,"t":30},{"x":62.3,"t":33.6},{"x":67.2,"t":38.6},{"x":70,"t":40.5},{"x":72.7,"t":40.7},{"x":78.7,"t":42.4},{"x":83.6,"t":43.1},{"x":90.2,"t":44.9},{"x":96.3,"t":46.9}],
"G":[{"t":10},{"t":20},{"t":30},{"t":40},{"t":50}]
},
"hconcat":[
{
"width":588.5,"height":376,
"layer":[
{"data":{"name":"L"},"mark":{"type":"line","clip":true,"color":"#c0c0c0","strokeWidth":1},
 "encoding":{
  "x":{"field":"x","type":"quantitative","scale":{"domain":[0,96.5],"nice":false,"zero":false},
   "axis":{"orient":"top","values":[0,1,2,3,4,5,6,7,8,9,10,11,12,13,14,15,16,17,18,19,20,21,22,23,24,25,26,27,28,29,30,31,32,33,34,35,36,37,38,39,40,41,42,43,44,45,46,47,48,49,50,51,52,53,54,55,56,57,58,59,60,61,62,63,64,65,66,67,68,69,70,71,72,73,74,75,76,77,78,79,80,81,82,83,84,85,86,87,88,89,90,91,92,93,94,95,96],
    "labelExpr":"datum.value % 10 === 0 && datum.value > 0 ? datum.label : ''","tickSize":{"condition":{"test":"datum.value % 10 === 0","value":-9},"value":-4},"labelPadding":21,"labelBaseline":"alphabetic","labelFlush":false,"labelOverlap":false,"labelBound":false}},
  "y":{"field":"t","type":"quantitative","scale":{"domain":[0,59],"nice":false,"zero":false,"reverse":true},
   "axis":{"orient":"left","values":[0,1,2,3,4,5,6,7,8,9,10,11,12,13,14,15,16,17,18,19,20,21,22,23,24,25,26,27,28,29,30,31,32,33,34,35,36,37,38,39,40,41,42,43,44,45,46,47,48,49,50,51,52,53,54,55,56,57,58,59],
    "labelExpr":"datum.value % 10 === 0 && datum.value > 0 ? datum.label : ''","tickSize":-4,"labelPadding":11.5,"labelFlush":false,"labelOverlap":false,"labelBound":false}},
  "detail":{"field":"s","type":"nominal"}}},
{"data":{"name":"G"},"mark":{"type":"rule","color":"#222","strokeDash":[3.5,2.5],"strokeWidth":1.3},
 "encoding":{"y":{"field":"t","type":"quantitative","scale":{"domain":[0,59],"nice":false,"zero":false,"reverse":true},"axis":null}}},
{"data":{"values":[{"x":48.2}]},"mark":{"type":"rule","color":"#000","strokeWidth":1.3},
 "encoding":{"x":{"field":"x","type":"quantitative","scale":{"domain":[0,96.5],"nice":false,"zero":false},"axis":null}}},
{"data":{"name":"LB"},"mark":{"type":"line","clip":true,"color":"#1e1e1e","strokeWidth":3},
 "encoding":{
  "x":{"field":"x","type":"quantitative","scale":{"domain":[0,96.5],"nice":false,"zero":false},
   "axis":{"orient":"bottom","values":[10,20,30,40,50,60,70,80,90],"labels":false,"tickSize":-7}},
  "y":{"field":"t","type":"quantitative","scale":{"domain":[0,59],"nice":false,"zero":false,"reverse":true},
   "axis":{"orient":"right","values":[0,1,2,3,4,5,6,7,8,9,10,11,12,13,14,15,16,17,18,19,20,21,22,23,24,25,26,27,28,29,30,31,32,33,34,35,36,37,38,39,40,41,42,43,44,45,46,47,48,49,50,51,52,53,54,55,56,57,58,59],"labels":false,"tickSize":-4}}}},
{"data":{"values":[{"x":48.0,"t":-8.8,"t2":0}]},"mark":{"type":"rule","color":"#ff0000","strokeWidth":5.5},
 "encoding":{"x":{"field":"x","type":"quantitative","scale":{"domain":[0,96.5],"nice":false,"zero":false},"axis":null},
  "y":{"field":"t","type":"quantitative","scale":{"domain":[0,59],"nice":false,"zero":false,"reverse":true},"axis":null},"y2":{"field":"t2"}}},
{"data":{"values":[{"k":"SED","x":48.0,"t":-9.4}]},"mark":{"type":"text","color":"#ff0000","font":"Liberation Sans, sans-serif","fontWeight":"bold","fontSize":27,"align":"center","baseline":"alphabetic"},
 "encoding":{"x":{"field":"x","type":"quantitative","scale":{"domain":[0,96.5],"nice":false,"zero":false},"axis":null},
  "y":{"field":"t","type":"quantitative","scale":{"domain":[0,59],"nice":false,"zero":false,"reverse":true},"axis":null},"text":{"field":"k"}}},
{"data":{"values":[{"k":"NE","x":1.2,"t":-5}]},"mark":{"type":"text","color":"#808080","font":"Liberation Sans, sans-serif","fontWeight":"bold","fontSize":27,"align":"left","baseline":"alphabetic"},
 "encoding":{"x":{"field":"x","type":"quantitative","scale":{"domain":[0,96.5],"nice":false,"zero":false},"axis":null},
  "y":{"field":"t","type":"quantitative","scale":{"domain":[0,59],"nice":false,"zero":false,"reverse":true},"axis":null},"text":{"field":"k"}}},
{"data":{"values":[{"k":"SW","x":97.5,"t":-5}]},"mark":{"type":"text","color":"#808080","font":"Liberation Sans, sans-serif","fontWeight":"bold","fontSize":27,"align":"right","baseline":"alphabetic"},
 "encoding":{"x":{"field":"x","type":"quantitative","scale":{"domain":[0,96.5],"nice":false,"zero":false},"axis":null},
  "y":{"field":"t","type":"quantitative","scale":{"domain":[0,59],"nice":false,"zero":false,"reverse":true},"axis":null},"text":{"field":"k"}}}
],
"resolve":{"axis":{"x":"independent","y":"independent"}}
},
{
"width":588.5,"height":376,
"layer":[
{"data":{"name":"R"},"mark":{"type":"line","clip":true,"color":"#c0c0c0","strokeWidth":1},
 "encoding":{
  "x":{"field":"x","type":"quantitative","scale":{"domain":[0,96.5],"nice":false,"zero":false},
   "axis":{"orient":"top","values":[0,1,2,3,4,5,6,7,8,9,10,11,12,13,14,15,16,17,18,19,20,21,22,23,24,25,26,27,28,29,30,31,32,33,34,35,36,37,38,39,40,41,42,43,44,45,46,47,48,49,50,51,52,53,54,55,56,57,58,59,60,61,62,63,64,65,66,67,68,69,70,71,72,73,74,75,76,77,78,79,80,81,82,83,84,85,86,87,88,89,90,91,92,93,94,95,96],
    "labelExpr":"datum.value % 10 === 0 && datum.value > 0 ? datum.label : ''","tickSize":{"condition":{"test":"datum.value % 10 === 0","value":-9},"value":-4},"labelPadding":21,"labelBaseline":"alphabetic","labelFlush":false,"labelOverlap":false,"labelBound":false}},
  "y":{"field":"t","type":"quantitative","scale":{"domain":[0,59],"nice":false,"zero":false,"reverse":true},
   "axis":{"orient":"right","values":[0,1,2,3,4,5,6,7,8,9,10,11,12,13,14,15,16,17,18,19,20,21,22,23,24,25,26,27,28,29,30,31,32,33,34,35,36,37,38,39,40,41,42,43,44,45,46,47,48,49,50,51,52,53,54,55,56,57,58,59],
    "labelExpr":"datum.value % 10 === 0 && datum.value > 0 ? datum.label : ''","tickSize":-4,"labelPadding":15,"labelFlush":false,"labelOverlap":false,"labelBound":false}},
  "detail":{"field":"s","type":"nominal"}}},
{"data":{"name":"G"},"mark":{"type":"rule","color":"#222","strokeDash":[3.5,2.5],"strokeWidth":1.3},
 "encoding":{"y":{"field":"t","type":"quantitative","scale":{"domain":[0,59],"nice":false,"zero":false,"reverse":true},"axis":null}}},
{"data":{"values":[{"x":40}]},"mark":{"type":"rule","color":"#000","strokeWidth":1.3},
 "encoding":{"x":{"field":"x","type":"quantitative","scale":{"domain":[0,96.5],"nice":false,"zero":false},"axis":null}}},
{"data":{"name":"RB"},"mark":{"type":"line","clip":true,"color":"#1e1e1e","strokeWidth":3},
 "encoding":{
  "x":{"field":"x","type":"quantitative","scale":{"domain":[0,96.5],"nice":false,"zero":false},
   "axis":{"orient":"bottom","values":[10,20,30,40,50,60,70,80,90],"labels":false,"tickSize":-7}},
  "y":{"field":"t","type":"quantitative","scale":{"domain":[0,59],"nice":false,"zero":false,"reverse":true},
   "axis":{"orient":"left","values":[0,1,2,3,4,5,6,7,8,9,10,11,12,13,14,15,16,17,18,19,20,21,22,23,24,25,26,27,28,29,30,31,32,33,34,35,36,37,38,39,40,41,42,43,44,45,46,47,48,49,50,51,52,53,54,55,56,57,58,59],"labels":false,"tickSize":-4}}}},
{"data":{"values":[{"x":39.9,"t":-8.8,"t2":0}]},"mark":{"type":"rule","color":"#ff0000","strokeWidth":5.5},
 "encoding":{"x":{"field":"x","type":"quantitative","scale":{"domain":[0,96.5],"nice":false,"zero":false},"axis":null},
  "y":{"field":"t","type":"quantitative","scale":{"domain":[0,59],"nice":false,"zero":false,"reverse":true},"axis":null},"y2":{"field":"t2"}}},
{"data":{"values":[{"k":"SED","x":39.9,"t":-9.4}]},"mark":{"type":"text","color":"#ff0000","font":"Liberation Sans, sans-serif","fontWeight":"bold","fontSize":27,"align":"center","baseline":"alphabetic"},
 "encoding":{"x":{"field":"x","type":"quantitative","scale":{"domain":[0,96.5],"nice":false,"zero":false},"axis":null},
  "y":{"field":"t","type":"quantitative","scale":{"domain":[0,59],"nice":false,"zero":false,"reverse":true},"axis":null},"text":{"field":"k"}}},
{"data":{"values":[{"k":"NE","x":0.75,"t":-5}]},"mark":{"type":"text","color":"#808080","font":"Liberation Sans, sans-serif","fontWeight":"bold","fontSize":27,"align":"left","baseline":"alphabetic"},
 "encoding":{"x":{"field":"x","type":"quantitative","scale":{"domain":[0,96.5],"nice":false,"zero":false},"axis":null},
  "y":{"field":"t","type":"quantitative","scale":{"domain":[0,59],"nice":false,"zero":false,"reverse":true},"axis":null},"text":{"field":"k"}}},
{"data":{"values":[{"k":"SW","x":97.1,"t":-5}]},"mark":{"type":"text","color":"#808080","font":"Liberation Sans, sans-serif","fontWeight":"bold","fontSize":27,"align":"right","baseline":"alphabetic"},
 "encoding":{"x":{"field":"x","type":"quantitative","scale":{"domain":[0,96.5],"nice":false,"zero":false},"axis":null},
  "y":{"field":"t","type":"quantitative","scale":{"domain":[0,59],"nice":false,"zero":false,"reverse":true},"axis":null},"text":{"field":"k"}}}
],
"resolve":{"axis":{"x":"independent","y":"independent"}}
}
]
}
